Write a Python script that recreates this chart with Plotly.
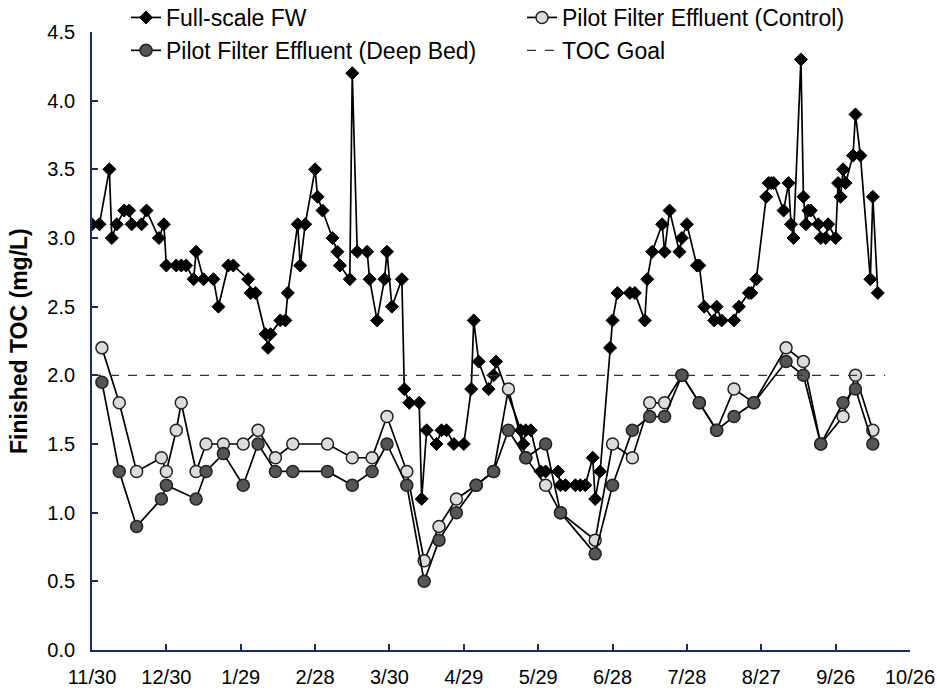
import pandas as pd
import plotly.graph_objects as go

start = pd.Timestamp("2006-11-30")

# Full-scale finished water: day offsets from 11/30 and TOC (mg/L)
fw_days = [0, 3, 7, 8, 10, 13, 15, 16, 20, 22, 27, 29, 30, 34, 36, 38, 41, 42, 45, 49,
           51, 55, 57, 63, 64, 66, 70, 71, 72, 76, 78, 79, 83, 84, 86, 90, 91, 93, 97, 99,
           100, 104, 105, 107, 111, 112, 115, 118, 119, 121, 125, 126, 128, 132, 133, 135,
           139, 141, 143, 146, 150, 153, 154, 156, 160, 162, 163, 173, 174, 175, 177, 181,
           183, 188, 189, 191, 195, 197, 199, 202, 203, 205, 209, 210, 212, 217, 219, 223,
           224, 226, 230, 231, 233, 237, 238, 240, 244, 245, 247, 251, 252, 254, 259, 261,
           265, 266, 268, 272, 273, 274, 275, 279, 281, 282, 283, 286, 287, 288, 289, 290,
           293, 294, 296, 297, 300, 301, 302, 303, 304, 307, 308, 310, 314, 315, 317]
fw_toc = [3.1, 3.1, 3.5, 3.0, 3.1, 3.2, 3.2, 3.1, 3.1, 3.2, 3.0, 3.1, 2.8, 2.8, 2.8, 2.8, 2.7, 2.9, 2.7, 2.7,
          2.5, 2.8, 2.8, 2.7, 2.6, 2.6, 2.3, 2.2, 2.3, 2.4, 2.4, 2.6, 3.1, 2.8, 3.1, 3.5, 3.3, 3.2, 3.0, 2.9,
          2.8, 2.7, 4.2, 2.9, 2.9, 2.7, 2.4, 2.7, 2.9, 2.5, 2.7, 1.9, 1.8, 1.8, 1.1, 1.6,
          1.5, 1.6, 1.6, 1.5, 1.5, 1.9, 2.4, 2.1, 1.9, 2.0, 2.1, 1.6, 1.5, 1.6, 1.6, 1.3,
          1.3, 1.3, 1.2, 1.2, 1.2, 1.2, 1.2, 1.4, 1.1, 1.3, 2.2, 2.4, 2.6, 2.6, 2.6, 2.4,
          2.7, 2.9, 3.1, 2.9, 3.2, 2.9, 3.0, 3.1, 2.8, 2.8, 2.5, 2.4, 2.5, 2.4, 2.4, 2.5,
          2.6, 2.6, 2.7, 3.3, 3.4, 3.4, 3.4, 3.2, 3.4, 3.1, 3.0, 4.3, 3.3, 3.1, 3.2, 3.2,
          3.1, 3.0, 3.0, 3.1, 3.0, 3.4, 3.3, 3.5, 3.4, 3.6, 3.9, 3.6, 2.7, 3.3, 2.6]

# Pilot filters (shared sampling days)
pilot_days = [4, 11, 18, 28, 30, 34, 36, 42, 46, 53, 61, 67, 74, 81, 95, 105, 113, 119,
              127, 134, 140, 147, 155, 162, 168, 175, 183, 189, 203, 210, 218, 225, 231,
              238, 245, 252, 259, 267, 280, 287, 294, 303, 308, 315]
control_toc = [2.2, 1.8, 1.3, 1.4, 1.3, 1.6, 1.8, 1.3, 1.5, 1.5, 1.5, 1.6, 1.4, 1.5, 1.5, 1.4, 1.4, 1.7,
               1.3, 0.65, 0.9, 1.1, 1.2, 1.3, 1.9, 1.4, 1.2, 1.0, 0.8, 1.5, 1.4, 1.8, 1.8,
               2.0, 1.8, 1.6, 1.9, 1.8, 2.2, 2.1, 1.5, 1.7, 2.0, 1.6]
deep_toc = [1.95, 1.3, 0.9, 1.1, 1.2, None, None, 1.1, 1.3, 1.43, 1.2, 1.5, 1.3, 1.3, 1.3, 1.2, 1.3, 1.5,
            1.2, 0.5, 0.8, 1.0, 1.2, 1.3, 1.6, 1.4, 1.5, 1.0, 0.7, 1.2, 1.6, 1.7, 1.7,
            2.0, 1.8, 1.6, 1.7, 1.8, 2.1, 2.0, 1.5, 1.8, 1.9, 1.5]

goal_days = [0, 320]
goal_toc = [2.0, 2.0]

tick_days = list(range(0, 331, 30))
y_title = "Finished TOC (mg/L)"


def to_dates(days):
    return [start + pd.Timedelta(days=d) for d in days]


deep_pairs = [(d, v) for d, v in zip(pilot_days, deep_toc) if v is not None]

fig = go.Figure()
fig.add_trace(go.Scatter(
    x=to_dates(fw_days), y=fw_toc, mode="lines+markers", name="Full-scale FW",
    legend="legend", legendgroup="a",
    line=dict(color="black", width=1.7),
    marker=dict(symbol="diamond", size=10, color="black", line=dict(color="black", width=1))))
fig.add_trace(go.Scatter(
    x=to_dates(pilot_days), y=control_toc, mode="lines+markers",
    name="Pilot Filter Effluent (Control)", legend="legend2", legendgroup="b",
    line=dict(color="black", width=1.7),
    marker=dict(symbol="circle", size=12, color="#dcdcdc", line=dict(color="#222", width=1.5))))
fig.add_trace(go.Scatter(
    x=to_dates([p[0] for p in deep_pairs]), y=[p[1] for p in deep_pairs], mode="lines+markers",
    name="Pilot Filter Effluent (Deep Bed)", legend="legend", legendgroup="c",
    line=dict(color="black", width=1.7),
    marker=dict(symbol="circle", size=12, color="#555555", line=dict(color="#222", width=1.5))))
fig.add_trace(go.Scatter(
    x=to_dates(goal_days), y=goal_toc, mode="lines", name="TOC Goal",
    legend="legend2", legendgroup="d",
    line=dict(color="#333", width=1.3, dash="dash")))

axis_color = "#1c2a6b"
plot_w = 937 - 92 - 27
plot_h = 691 - 32 - 41
leg_common = dict(xanchor="left", yanchor="top",
                  y=(plot_h + 36) / plot_h, bgcolor="rgba(0,0,0,0)", font=dict(size=23),
                  tracegroupgap=0, itemwidth=30)
fig.update_layout(
    width=937, height=691,
    margin=dict(l=92, r=27, t=32, b=41, autoexpand=False),
    plot_bgcolor="white", paper_bgcolor="white",
    font=dict(family="Liberation Sans, Arial, sans-serif", size=20, color="black"),
    showlegend=True,
    legend=dict(x=(126 - 92) / plot_w, **leg_common),
    legend2=dict(x=(522 - 92) / plot_w, **leg_common),
    xaxis=dict(type="date", range=[start, start + pd.Timedelta(days=330)],
               tickvals=to_dates(tick_days),
               ticktext=[f"{d.month}/{d.day}" for d in to_dates(tick_days)],
               showgrid=False, zeroline=False, showline=True, linecolor=axis_color, linewidth=1.5,
               ticks="inside", tickcolor=axis_color, ticklen=6, tickwidth=1.5,
               ticklabelstandoff=8),
    yaxis=dict(range=[0, 4.5], dtick=0.5, tickformat=".1f", ticksuffix="\u00a0\u00a0",
               showgrid=False, zeroline=False, showline=True, linecolor=axis_color, linewidth=1.5,
               ticks="inside", tickcolor=axis_color, ticklen=6, tickwidth=1.5),
    annotations=[dict(text=f"<b>{y_title}</b>", textangle=-90, showarrow=False,
                      xref="paper", yref="paper", x=-(92 - 19) / plot_w, y=0.5,
                      xanchor="center", yanchor="middle", font=dict(size=23))],
)

fig.write_html("out.html")
